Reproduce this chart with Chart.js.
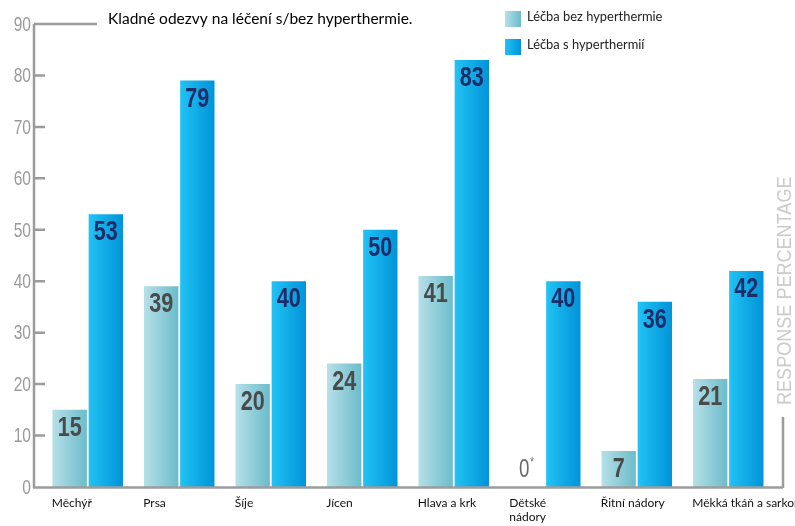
<!DOCTYPE html>
<html>
<head>
<meta charset="utf-8">
<script src="https://cdn.jsdelivr.net/npm/chart.js@4/dist/chart.umd.min.js"></script>
<style>
html,body{margin:0;padding:0;background:#fff;}
#wrap{width:795px;height:526px;position:relative;}
</style>
</head>
<body>
<div id="wrap"><canvas id="c" width="795" height="526"></canvas></div>
<script>
// ---- data ----
const categories = ['Měchýř', 'Prsa', 'Šíje', 'Jícen', 'Hlava a krk', ['Dětské', 'nádory'], 'Řitní nádory', 'Měkká tkáň a sarkom'];
const withoutHyperthermia = [15, 39, 20, 24, 41, 0, 7, 21];
const withHyperthermia = [53, 79, 40, 50, 83, 40, 36, 42];
const seriesNames = ['Léčba bez hyperthermie', 'Léčba s hyperthermií'];
const yTickValues = [0, 10, 20, 30, 40, 50, 60, 70, 80, 90];
const chartTitle = 'Kladné odezvy na léčení s/bez hyperthermie.';
const sideTitle = 'RESPONSE PERCENTAGE';

// ---- styles ----
const SANS = '"Liberation Sans", Arial, sans-serif';
const TEXT = 'Lato, "Open Sans", sans-serif';
const gradStops = [
  ['#b6e0e8', '#6cbcca'],
  ['#22c3f4', '#0093d9']
];
const valueColors = ['#4a4a4a', '#1d2d6a'];
const AXIS = '#9c9c9c';

function hGrad(ctx, x0, x1, stops) {
  const g = ctx.createLinearGradient(x0, 0, x1, 0);
  g.addColorStop(0, stops[0]);
  g.addColorStop(1, stops[1]);
  return g;
}

function narrowText(ctx, text, x, y, sx, align) {
  ctx.save();
  ctx.translate(x, y);
  ctx.scale(sx, 1);
  ctx.textAlign = align;
  ctx.fillText(text, 0, 0);
  ctx.restore();
}

const decorPlugin = {
  id: 'decor',
  beforeDatasetsDraw(chart) {
    const ctx = chart.ctx;
    chart.data.datasets.forEach((ds, di) => {
      const meta = chart.getDatasetMeta(di);
      meta.data.forEach(el => {
        const p = el.getProps(['x', 'width'], true);
        el.options = Object.assign({}, el.options, {
          backgroundColor: hGrad(ctx, p.x - p.width / 2, p.x + p.width / 2, gradStops[di])
        });
      });
    });
  },
  afterDatasetsDraw(chart) {
    const ctx = chart.ctx;
    const ys = chart.scales.y;
    const area = chart.chartArea;
    const axX = area.left - 8;
    const y0 = ys.getPixelForValue(0);
    const yTop = ys.getPixelForValue(90);
    ctx.save();
    ctx.strokeStyle = AXIS;
    ctx.lineWidth = 2.5;
    ctx.beginPath();
    ctx.moveTo(axX, yTop); ctx.lineTo(axX, y0 + 1);
    ctx.moveTo(axX - 1, y0 + 0.5); ctx.lineTo(area.right + 9, y0 + 0.5);
    ctx.moveTo(area.right + 9, y0 + 1); ctx.lineTo(area.right + 9, y0 - 70);
    ctx.stroke();
    ctx.beginPath();
    ys.ticks.forEach(t => {
      if (t.value === 0) return;
      const y = ys.getPixelForValue(t.value);
      ctx.moveTo(axX, y);
      ctx.lineTo(t.value === 90 ? axX + 63 : axX + 11, y);
    });
    ctx.stroke();

    // y tick labels (condensed)
    ctx.fillStyle = '#9a9a9a';
    ctx.font = '21px ' + SANS;
    ctx.textBaseline = 'middle';
    ys.ticks.forEach(t => {
      const y = ys.getPixelForValue(t.value);
      narrowText(ctx, String(t.value), axX - 3, y + 1, 0.74, 'right');
    });

    // value labels
    ctx.textBaseline = 'alphabetic';
    chart.data.datasets.forEach((ds, di) => {
      const meta = chart.getDatasetMeta(di);
      meta.data.forEach((el, i) => {
        const v = ds.data[i];
        const p = el.getProps(['x', 'y'], true);
        if (v === 0) {
          ctx.fillStyle = '#6a6a6a';
          ctx.font = '25px ' + SANS;
          narrowText(ctx, '0', p.x - 3, p.y - 10, 0.75, 'center');
          ctx.font = '12px ' + SANS;
          narrowText(ctx, '*', p.x + 5, p.y - 21, 0.8, 'center');
        } else {
          ctx.fillStyle = valueColors[di];
          ctx.font = 'bold 27px ' + SANS;
          narrowText(ctx, String(v), p.x, p.y + 26, 0.8, 'center');
        }
      });
    });

    // title
    ctx.fillStyle = '#000';
    ctx.font = '15.5px ' + TEXT;
    ctx.textAlign = 'left';
    ctx.textBaseline = 'middle';
    ctx.fillText(chartTitle, 108, 19);

    // legend
    chart.data.datasets.forEach((ds, di) => {
      const ly = 11 + di * 28;
      ctx.fillStyle = hGrad(ctx, 505, 521, gradStops[di]);
      ctx.fillRect(505, ly, 16, 16);
      ctx.fillStyle = '#222';
      ctx.font = '12.9px ' + TEXT;
      ctx.textAlign = 'left';
      ctx.textBaseline = 'middle';
      ctx.fillText(ds.label, 527, ly + 6);
    });

    // side title
    ctx.save();
    ctx.translate(791, 405);
    ctx.rotate(-Math.PI / 2);
    ctx.fillStyle = '#cbcbcb';
    ctx.font = '21px ' + SANS;
    ctx.textBaseline = 'alphabetic';
    narrowText(ctx, sideTitle, 0, 0, 0.86, 'left');
    ctx.restore();
    ctx.restore();
  }
};

new Chart(document.getElementById('c'), {
  type: 'bar',
  data: {
    labels: categories,
    datasets: [
      { label: seriesNames[0], data: withoutHyperthermia, backgroundColor: gradStops[0][1], borderWidth: 0 },
      { label: seriesNames[1], data: withHyperthermia, backgroundColor: gradStops[1][1], borderWidth: 0 }
    ]
  },
  options: {
    responsive: false,
    devicePixelRatio: 1,
    animation: false,
    events: [],
    layout: { padding: { left: 0, right: 21, top: 24, bottom: 0 } },
    datasets: { bar: { barPercentage: 0.95, categoryPercentage: 0.79 } },
    plugins: { legend: { display: false }, title: { display: false }, tooltip: { enabled: false } },
    scales: {
      x: {
        grid: { display: false, drawTicks: false },
        border: { display: false },
        ticks: {
          align: 'start', labelOffset: -36, maxRotation: 0, minRotation: 0, autoSkip: false,
          padding: 9, color: '#111', font: { family: TEXT, size: 12 }
        },
        afterFit(s) { s.height = 39; s.paddingLeft = 0; s.paddingRight = 0; }
      },
      y: {
        min: 0, max: 90,
        grid: { display: false, drawTicks: false },
        border: { display: false },
        afterBuildTicks(s) { s.ticks = yTickValues.map(v => ({ value: v })); },
        ticks: { display: false },
        afterFit(s) { s.width = 42; }
      }
    }
  },
  plugins: [decorPlugin]
});
</script>
</body>
</html>
